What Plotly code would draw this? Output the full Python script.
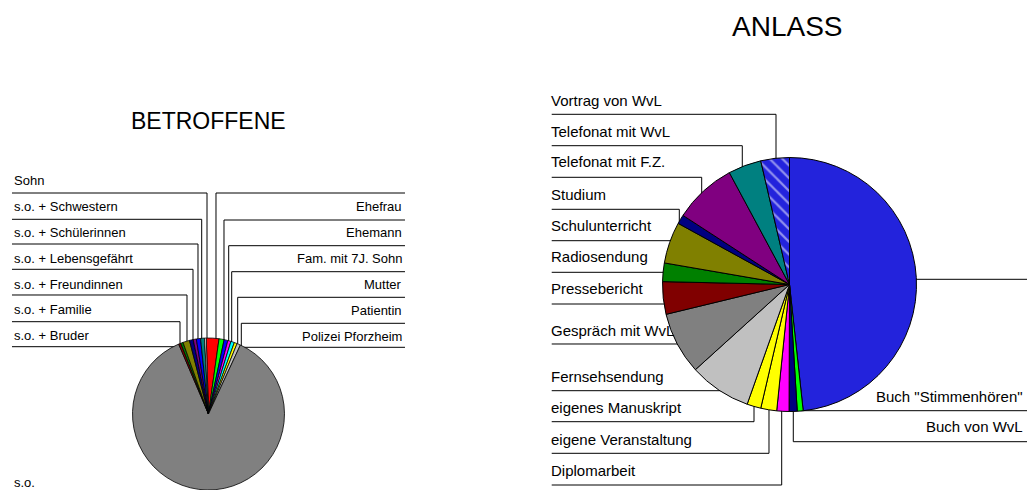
import plotly.graph_objects as go

# ---------------- data ----------------
betroffene_labels = ["", "Ehefrau", "Ehemann", "Fam. mit 7J. Sohn", "Mutter", "Patientin",
                     "Polizei Pforzheim", "s.o.", "s.o. + Bruder", "s.o. + Familie",
                     "s.o. + Freundinnen", "s.o. + Lebensgefährt", "s.o. + Schülerinnen",
                     "s.o. + Schwestern", "Sohn", ""]
betroffene_values = [9.7, 3.9, 2.9, 2.4, 2.7, 2.2, 2.7, 312.1, 1.7, 1.8, 5.1, 2.9, 2.4, 3.2, 3.0, 1.3]
betroffene_colors = ["#FF0000", "#00FF00", "#0000FF", "#FF00FF", "#00FFFF", "#FFFF00", "#C0C0C0",
                     "#808080", "#800000", "#008000", "#808000", "#000080", "#800080", "#0000FF",
                     "#008080", "#F0F0F0"]

anlass_labels = ["", 'Buch "Stimmenhören"', "Buch von WvL", "Diplomarbeit", "eigene Veranstaltung",
                 "eigenes Manuskript", "Fernsehsendung", "Gespräch mit WvL", "Pressebericht",
                 "Radiosendung", "Schulunterricht", "Studium", "Telefonat mit F.Z.",
                 "Telefonat mit WvL", "Vortrag von WvL"]
anlass_values = [174, 2.7, 3.7, 5.6, 7.3, 6.4, 28.4, 28.6, 14.9, 8.5, 19.0, 4.2, 28.8, 15.2, 13.1]
anlass_colors = ["#2323DC", "#00FF00", "#000080", "#FF00FF", "#FFFF00", "#FFFF00", "#C0C0C0",
                 "#808080", "#800000", "#008000", "#808000", "#000080", "#800080", "#008080",
                 "#2323DC"]
anlass_hatch = [""] * 14 + ["\\"]

# ---------------- layout helpers ----------------
W, H = 1027, 490
OFF = 0  # page body margin is removed below
FONT = "Liberation Sans, Arial, sans-serif"


def px(x):
    return (x - OFF) / W


def py(y):
    return 1 - (y - OFF) / H


def pie_domain(cx, cy, r):
    return dict(x=[max(0, px(cx - r)), min(1, px(cx + r))],
                y=[max(0, py(cy + r)), min(1, py(cy - r))])


fig = go.Figure()

fig.add_trace(go.Pie(
    values=betroffene_values, hovertext=betroffene_labels, hoverinfo="text+percent",
    sort=False, direction="clockwise", rotation=-1.7, textinfo="none",
    marker=dict(colors=betroffene_colors, line=dict(color="#000000", width=0.8)),
    domain=pie_domain(208.5, 414, 76), showlegend=False,
))

fig.add_trace(go.Pie(
    values=anlass_values, hovertext=anlass_labels, hoverinfo="text+percent",
    sort=False, direction="clockwise", rotation=0, textinfo="none",
    marker=dict(colors=anlass_colors, line=dict(color="#000000", width=1),
                pattern=dict(shape=anlass_hatch, fgcolor="#FFFFFF", bgcolor=anlass_colors,
                             fillmode="overlay", size=9, solidity=0.25)),
    domain=pie_domain(789.5, 284.5, 127), showlegend=False,
))

# label placement: (text x, text y, anchor, leader-line points), page pixels
betroffene_pos = {
    0: (None, None, None, [(405, 193), (216, 193), (216, 345)]),
    1: (404, 207, "right", [(405, 220), (224, 220), (224, 346)]),
    2: (404, 233, "right", [(405, 245.7), (228.7, 245.7), (228.7, 347)]),
    3: (404, 258.5, "right", [(405, 271.7), (231.7, 271.7), (231.7, 347)]),
    4: (404, 284.5, "right", [(405, 297.3), (237.7, 297.3), (237.7, 348)]),
    5: (404, 310.5, "right", [(405, 323.3), (241.3, 323.3), (241.3, 349)]),
    6: (404, 336, "right", [(405, 347.3), (244, 347.3)]),
    7: (12, 482, "left", None),
    8: (12, 335, "left", [(12, 346.7), (178, 346.7)]),
    9: (12, 309, "left", [(12, 321.7), (180, 321.7), (180, 348)]),
    10: (12, 284, "left", [(12, 295), (187, 295), (187, 346)]),
    11: (12, 258.3, "left", [(12, 269.3), (193, 269.3), (193, 345)]),
    12: (12, 232.3, "left", [(12, 244), (198, 244), (198, 344)]),
    13: (12, 206.7, "left", [(12, 219.3), (201.7, 219.3), (201.7, 344)]),
    14: (12, 180.7, "left", [(12, 193), (207, 193), (207, 344)]),
}
anlass_pos = {
    0: (None, None, None, [(912, 279.3), (1030, 279.3)]),
    1: (1025, 396.7, "right", [(1030, 410.7), (800, 410.7)]),
    2: (1025, 426.7, "right", [(1030, 441.7), (793.3, 441.7), (793.3, 405)]),
    3: (549, 470.7, "left", [(551.7, 485), (781.7, 485), (781.7, 405)]),
    4: (549, 439.3, "left", [(551.7, 453.3), (769, 453.3), (769, 404)]),
    5: (549, 407.3, "left", [(551.7, 421.7), (754, 421.7), (754, 402)]),
    6: (549, 376.7, "left", [(551.7, 390.7), (722, 390.7)]),
    7: (549, 330, "left", [(551.7, 344), (678, 344)]),
    8: (549, 288.3, "left", [(551.7, 304), (668, 304)]),
    9: (549, 256.7, "left", [(551.7, 272.3), (668, 272.3)]),
    10: (549, 225.7, "left", [(551.7, 240.7), (672, 240.7)]),
    11: (549, 194, "left", [(551.7, 209.3), (679.3, 209.3), (679.3, 222)]),
    12: (549, 161.7, "left", [(551.7, 177.3), (701.7, 177.3), (701.7, 196)]),
    13: (549, 131.7, "left", [(551.7, 145.7), (742.3, 145.7), (742.3, 176)]),
    14: (549, 100.7, "left", [(551.7, 114.3), (776, 114.3), (776, 164)]),
}

annotations = []
shapes = []


def add_labels(labels, positions, size):
    for i, lab in enumerate(labels):
        if i not in positions:
            continue
        tx, ty, anchor, pts = positions[i]
        if lab and tx is not None:
            annotations.append(dict(
                x=px(tx), y=py(ty), xref="paper", yref="paper", text=lab, showarrow=False,
                xanchor=anchor, yanchor="middle", font=dict(family=FONT, size=size, color="#000000"),
            ))
        if pts:
            path = "M " + " L ".join(f"{px(x):.5f},{py(y):.5f}" for x, y in pts)
            shapes.append(dict(type="path", path=path, xref="paper", yref="paper", layer="below",
                               line=dict(color="#000000", width=1)))


add_labels(betroffene_labels, betroffene_pos, 13)
add_labels(anlass_labels, anlass_pos, 15)

annotations.append(dict(x=px(208.5), y=py(121), xref="paper", yref="paper", text="BETROFFENE",
                        showarrow=False, xanchor="center", yanchor="middle",
                        font=dict(family=FONT, size=23, color="#000000")))
annotations.append(dict(x=px(787.5), y=py(27), xref="paper", yref="paper", text="ANLASS",
                        showarrow=False, xanchor="center", yanchor="middle",
                        font=dict(family=FONT, size=28, color="#000000")))

fig.update_layout(
    width=W, height=H, margin=dict(l=0, r=0, t=0, b=0),
    paper_bgcolor="#FFFFFF", plot_bgcolor="#FFFFFF",
    annotations=annotations, shapes=shapes, showlegend=False,
)

fig.write_html("out.html", config={"displayModeBar": False},
               post_script="document.body.style.margin='0';document.body.style.overflow='hidden';")
